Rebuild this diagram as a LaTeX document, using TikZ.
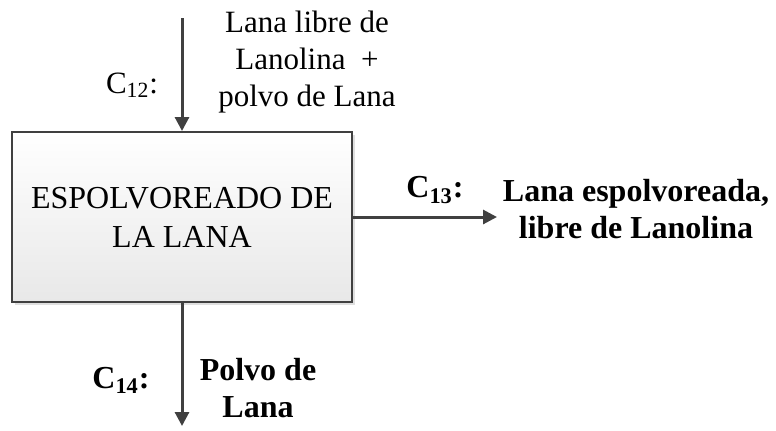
\documentclass[tikz,border=0pt]{standalone}
\usepackage{fontspec}
\setmainfont{Liberation Serif}
\usetikzlibrary{arrows.meta,shadows}
\begin{document}
\begin{tikzpicture}
      [x=0.5pt,y=-0.5pt,
       flow/.style={draw=black!75,line width=1.5pt,-{Triangle[length=7pt,width=7pt]}},
       process/.style={draw=black!75,line width=1pt,top color=white,bottom color=black!9,
         minimum width=170pt,minimum height=85pt,align=center,
         font=\fontsize{16}{19.5}\selectfont,
         drop shadow={shadow xshift=1.5pt,shadow yshift=-1.5pt,opacity=0.25}},
       lbl/.style={inner sep=0pt,align=center,font=\fontsize{15.5}{18.5}\selectfont},
       blbl/.style={inner sep=0pt,align=center,font=\fontsize{16}{18.5}\selectfont\bfseries}]
      \useasboundingbox (0,0) rectangle (776,430);
      \node(box) [process] at (182,217) {ESPOLVOREADO DE\\LA LANA};
      \coordinate(in) at (182,18);
      \coordinate(out) at (497,217);
      \coordinate(dust) at (182,426);
      \draw[flow](in) -- (box);
      \draw[flow](box) -- (out);
      \draw[flow](box) -- (dust);
      \node(c12) [lbl] at (132,85) {C\textsubscript{12}:};
      \node(t12) [lbl] at (307,62) {Lana libre de\\Lanolina ~+\\polvo de Lana};
      \node(c13) [blbl] at (435,190) {C\textsubscript{13}:};
      \node(t13) [blbl] at (636,209) {Lana espolvoreada,\\libre de Lanolina};
      \node(c14) [blbl] at (121,380) {C\textsubscript{14}:};
      \node(t14) [blbl] at (258,388) {Polvo de\\Lana};
\end{tikzpicture}
\end{document}
